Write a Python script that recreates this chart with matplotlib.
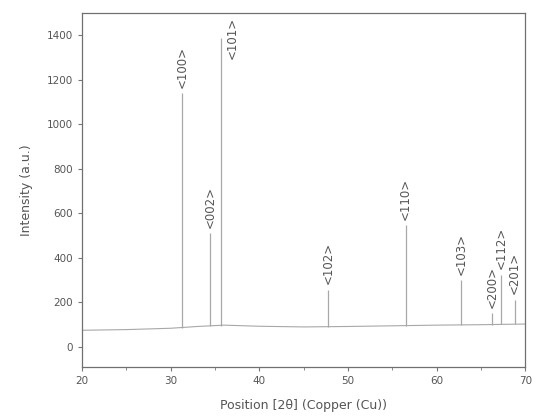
import matplotlib
matplotlib.use("Agg")
import matplotlib.pyplot as plt
from matplotlib.ticker import MultipleLocator

# background trace (2theta, counts)
bg_x = [20, 25, 30, 33, 36, 40, 45, 50, 55, 60, 65, 70]
bg_y = [75, 78, 84, 92, 98, 93, 90, 92, 95, 98, 100, 103]

# reflections
hkl = ["<100>", "<002>", "<101>", "<102>", "<110>", "<103>", "<200>", "<112>", "<201>"]
peak_pos = [31.3, 34.4, 35.7, 47.8, 56.5, 62.8, 66.3, 67.3, 68.8]
peak_int = [1139, 511, 1386, 256, 547, 300, 152, 323, 211]
peak_base = [86, 92, 96, 91, 95, 99, 100, 101, 102]

gray = "#555555"
line_col = "#a8a8a8"

fig = plt.figure(figsize=(5.37, 4.18), dpi=100)
ax = fig.add_axes([0.153, 0.122, 0.825, 0.847])

ax.plot(bg_x, bg_y, color=line_col, lw=0.8)
ax.vlines(peak_pos, peak_base, peak_int, color=line_col, lw=0.9)

for lab, x, y in zip(hkl, peak_pos, peak_int):
    if lab == "<101>":
        # no room above the tallest peak, so the label sits beside it
        ax.text(x + 1.25, y, lab, rotation=90, ha="center", va="center",
                fontsize=8.5, color=gray, clip_on=False)
    else:
        ax.text(x, y + 25, lab, rotation=90, ha="center", va="bottom",
                fontsize=8.5, color=gray)

ax.set_xlim(20, 70)
ax.set_ylim(-90, 1500)
ax.xaxis.set_major_locator(MultipleLocator(10))
ax.xaxis.set_minor_locator(MultipleLocator(5))
ax.set_yticks(range(0, 1401, 200))

for sp in ax.spines.values():
    sp.set_color("#707070")
    sp.set_linewidth(0.9)

ax.tick_params(which="both", direction="out", colors="#777777", labelcolor=gray,
               labelsize=7.5, length=3)
ax.tick_params(which="minor", length=2)

ax.set_xlabel("Position [2θ] (Copper (Cu))", fontsize=9, color=gray, labelpad=9)
ax.set_ylabel("Intensity (a.u.)", fontsize=9, color=gray, labelpad=10)

fig.savefig("out.png", dpi=100)
